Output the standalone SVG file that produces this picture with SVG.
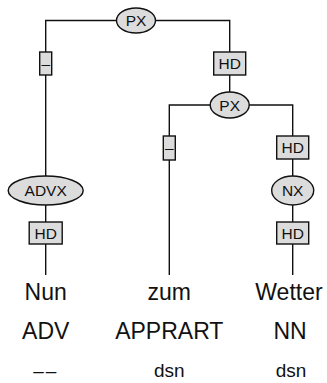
<svg xmlns="http://www.w3.org/2000/svg" width="327" height="383" viewBox="0 0 327 383">
<style>
.edge{stroke:#111;stroke-width:1.4;fill:none}
.nd{fill:#dcdcdc;stroke:#111;stroke-width:1.4}
.lb{fill:#dcdcdc;stroke:#111;stroke-width:1.4}
.t{font-family:"Liberation Sans",Arial,sans-serif;font-size:15.5px;fill:#111;text-anchor:middle}
.w{font-family:"Liberation Sans",Arial,sans-serif;font-size:23px;fill:#111;text-anchor:middle}
.s{font-family:"Liberation Sans",Arial,sans-serif;font-size:19px;fill:#111;text-anchor:middle}
</style>
<rect width="327" height="383" fill="#fff"/>
<g id="connectors">
<path class="edge" d="M45.7,275 V20.5 H229.7 V105"/>
<path class="edge" d="M169.3,275 V105 H292.7 V275"/>
</g>
<g id="lbl-top-left"><rect class="lb" x="39.7" y="52" width="12" height="23"/><text class="t" x="45.7" y="68.5">–</text></g>
<g id="lbl-top-right"><rect class="lb" x="213.7" y="52" width="32" height="23"/><text class="t" x="229.7" y="69">HD</text></g>
<g id="lbl-mid"><rect class="lb" x="163.3" y="136" width="12" height="24"/><text class="t" x="169.3" y="153">–</text></g>
<g id="lbl-right1"><rect class="lb" x="276.7" y="136" width="32" height="23"/><text class="t" x="292.7" y="153">HD</text></g>
<g id="lbl-left2"><rect class="lb" x="29.2" y="222" width="33" height="22"/><text class="t" x="45.7" y="238.5">HD</text></g>
<g id="lbl-right2"><rect class="lb" x="276.7" y="222" width="32" height="22"/><text class="t" x="292.7" y="238.5">HD</text></g>
<g id="node-px1"><ellipse class="nd" cx="136" cy="20.5" rx="19.5" ry="12.5"/><text class="t" x="136" y="26">PX</text></g>
<g id="node-px2"><ellipse class="nd" cx="229.7" cy="105" rx="19.5" ry="13"/><text class="t" x="229.7" y="110.5">PX</text></g>
<g id="node-advx"><ellipse class="nd" cx="45.7" cy="190.5" rx="37.5" ry="14.5"/><text class="t" x="45.7" y="196">ADVX</text></g>
<g id="node-nx"><ellipse class="nd" cx="292.7" cy="190.5" rx="21" ry="14.5"/><text class="t" x="292.7" y="196">NX</text></g>
<g id="word-nun"><text class="w" x="45.7" y="300">Nun</text><text class="w" x="45.7" y="339">ADV</text><text class="s" x="45.7" y="376.5" letter-spacing="2">––</text></g>
<g id="word-zum"><text class="w" x="169.3" y="300">zum</text><text class="w" x="169.3" y="339">APPRART</text><text class="s" x="169.3" y="376.5">dsn</text></g>
<g id="word-wetter"><text class="w" x="289" y="300">Wetter</text><text class="w" x="290" y="339">NN</text><text class="s" x="291" y="376.5">dsn</text></g>
</svg>
